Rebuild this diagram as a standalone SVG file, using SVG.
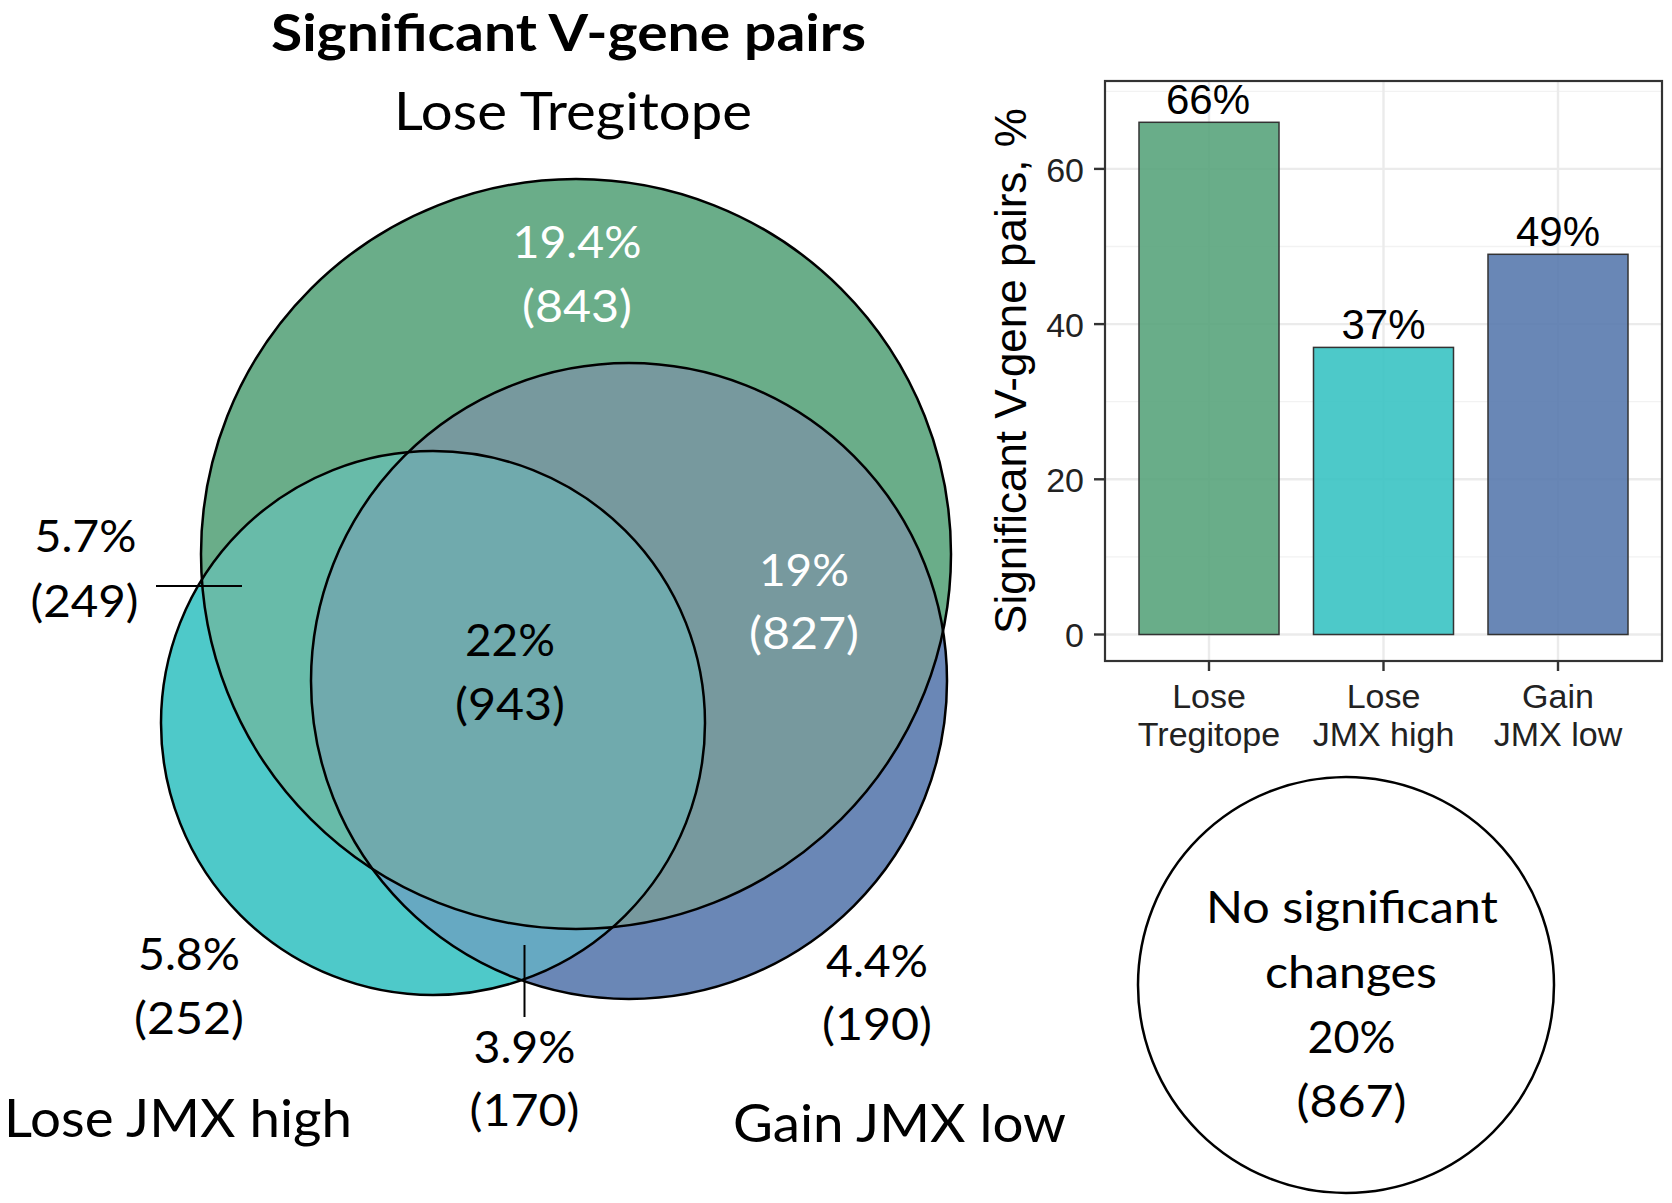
<svg xmlns="http://www.w3.org/2000/svg" width="1672" height="1203" viewBox="0 0 1672 1203">
<style>
.cal{font-family:Lato,"Open Sans","Noto Sans",sans-serif;}
.num{font-size:45px;text-anchor:middle;fill:#000;}
.wht{fill:#fff;}
.set{font-size:53px;fill:#000;}
.ttl{font-size:52px;font-weight:bold;fill:#000;text-anchor:middle;}
.outline{fill:none;stroke:#000;stroke-width:2.5;}
.ar{font-family:"Liberation Sans",Arial,sans-serif;}
.tick{font-size:34px;fill:#222;}
.barlab{font-size:42px;fill:#000;text-anchor:middle;}
.gmaj{stroke:#ebebeb;stroke-width:2.4;}
.gmin{stroke:#f2f2f2;stroke-width:1.3;}
.bar{stroke:#333;stroke-width:1.5;fill-opacity:0.9;}
.tk{stroke:#333;stroke-width:2.4;}
.lead{stroke:#000;stroke-width:2;}
</style>
<defs>
<clipPath id="cG"><circle cx="576" cy="554" r="375"/></clipPath>
<clipPath id="cT"><circle cx="433" cy="723" r="272"/></clipPath>
</defs>
<rect width="1672" height="1203" fill="#fff"/>

<text class="cal ttl" x="568.5" y="51" textLength="595" lengthAdjust="spacingAndGlyphs">Significant V-gene pairs</text>

<g id="venn">
<g id="set-lose-tregitope"><circle cx="576" cy="554" r="375" fill="#6aad89"/></g>
<g id="set-lose-jmx-high"><circle cx="433" cy="723" r="272" fill="#4ec9c9"/></g>
<g id="set-gain-jmx-low"><circle cx="629" cy="681" r="318" fill="#6a87b6"/></g>
<g clip-path="url(#cG)">
<circle cx="433" cy="723" r="272" fill="#68bba9"/>
<circle cx="629" cy="681" r="318" fill="#77999e"/>
</g>
<g clip-path="url(#cT)"><circle cx="629" cy="681" r="318" fill="#66a9c2"/></g>
<g clip-path="url(#cG)"><g clip-path="url(#cT)"><circle cx="629" cy="681" r="318" fill="#70aaad"/></g></g>
<circle class="outline" cx="576" cy="554" r="375"/>
<circle class="outline" cx="433" cy="723" r="272"/>
<circle class="outline" cx="629" cy="681" r="318"/>
</g>

<g id="connectors">
<line class="lead" x1="156" y1="586" x2="242" y2="586"/>
<line class="lead" x1="524.5" y1="945" x2="524.5" y2="1017"/>
</g>

<g id="venn-labels">
<text class="cal set" x="573" y="130" text-anchor="middle" textLength="358" lengthAdjust="spacingAndGlyphs">Lose Tregitope</text>
<text class="cal set" x="4" y="1137" textLength="348" lengthAdjust="spacingAndGlyphs">Lose JMX high</text>
<text class="cal set" x="733" y="1142" textLength="333" lengthAdjust="spacingAndGlyphs">Gain JMX low</text>

<text class="cal num wht" x="577" y="258" textLength="129" lengthAdjust="spacingAndGlyphs">19.4%</text>
<text class="cal num wht" x="577" y="322" textLength="110" lengthAdjust="spacingAndGlyphs">(843)</text>
<text class="cal num wht" x="804" y="586" textLength="90" lengthAdjust="spacingAndGlyphs">19%</text>
<text class="cal num wht" x="804" y="649" textLength="110" lengthAdjust="spacingAndGlyphs">(827)</text>
<text class="cal num" x="510" y="656" textLength="90" lengthAdjust="spacingAndGlyphs">22%</text>
<text class="cal num" x="510" y="720" textLength="110" lengthAdjust="spacingAndGlyphs">(943)</text>
<text class="cal num" x="85.5" y="552" textLength="102" lengthAdjust="spacingAndGlyphs">5.7%</text>
<text class="cal num" x="84.5" y="617" textLength="108" lengthAdjust="spacingAndGlyphs">(249)</text>
<text class="cal num" x="189" y="970" textLength="102" lengthAdjust="spacingAndGlyphs">5.8%</text>
<text class="cal num" x="189" y="1034" textLength="110" lengthAdjust="spacingAndGlyphs">(252)</text>
<text class="cal num" x="524.5" y="1063" textLength="102" lengthAdjust="spacingAndGlyphs">3.9%</text>
<text class="cal num" x="524.5" y="1126" textLength="110" lengthAdjust="spacingAndGlyphs">(170)</text>
<text class="cal num" x="877" y="977" textLength="102" lengthAdjust="spacingAndGlyphs">4.4%</text>
<text class="cal num" x="877" y="1040" textLength="110" lengthAdjust="spacingAndGlyphs">(190)</text>
</g>

<g id="no-significant">
<circle class="outline" cx="1346" cy="985" r="208" fill="#fff"/>
<text class="cal num" x="1352" y="923" textLength="292" lengthAdjust="spacingAndGlyphs">No significant</text>
<text class="cal num" x="1351" y="988" textLength="172" lengthAdjust="spacingAndGlyphs">changes</text>
<text class="cal num" x="1351.5" y="1053" textLength="88" lengthAdjust="spacingAndGlyphs">20%</text>
<text class="cal num" x="1351.5" y="1117" textLength="110" lengthAdjust="spacingAndGlyphs">(867)</text>
</g>

<g id="bar-chart">
<rect x="1105" y="81" width="557" height="580" fill="#fff"/>
<g id="grid">
<line class="gmin" x1="1105" y1="556.9" x2="1662" y2="556.9"/>
<line class="gmin" x1="1105" y1="401.7" x2="1662" y2="401.7"/>
<line class="gmin" x1="1105" y1="246.5" x2="1662" y2="246.5"/>
<line class="gmin" x1="1105" y1="91.3" x2="1662" y2="91.3"/>
<line class="gmaj" x1="1105" y1="634.5" x2="1662" y2="634.5"/>
<line class="gmaj" x1="1105" y1="479.3" x2="1662" y2="479.3"/>
<line class="gmaj" x1="1105" y1="324.1" x2="1662" y2="324.1"/>
<line class="gmaj" x1="1105" y1="168.9" x2="1662" y2="168.9"/>
<line class="gmaj" x1="1209" y1="81" x2="1209" y2="661"/>
<line class="gmaj" x1="1383.5" y1="81" x2="1383.5" y2="661"/>
<line class="gmaj" x1="1558" y1="81" x2="1558" y2="661"/>
</g>
<g id="bar-lose-tregitope">
<rect class="bar" x="1139" y="122.3" width="140" height="512.2" fill="#59a47c"/>
<text class="ar barlab" x="1208" y="114">66%</text>
</g>
<g id="bar-lose-jmx-high">
<rect class="bar" x="1313.5" y="347.4" width="140" height="287.1" fill="#3ac3c3"/>
<text class="ar barlab" x="1383.5" y="339">37%</text>
</g>
<g id="bar-gain-jmx-low">
<rect class="bar" x="1488" y="254.3" width="140" height="380.2" fill="#597aae"/>
<text class="ar barlab" x="1558" y="246">49%</text>
</g>
<rect x="1105" y="81" width="557" height="580" fill="none" stroke="#333" stroke-width="2.2"/>
<g id="axes">
<line class="tk" x1="1094" y1="634.5" x2="1105" y2="634.5"/>
<line class="tk" x1="1094" y1="479.3" x2="1105" y2="479.3"/>
<line class="tk" x1="1094" y1="324.1" x2="1105" y2="324.1"/>
<line class="tk" x1="1094" y1="168.9" x2="1105" y2="168.9"/>
<line class="tk" x1="1209" y1="661" x2="1209" y2="671"/>
<line class="tk" x1="1383.5" y1="661" x2="1383.5" y2="671"/>
<line class="tk" x1="1558" y1="661" x2="1558" y2="671"/>
<text class="ar tick" x="1084" y="647" text-anchor="end">0</text>
<text class="ar tick" x="1084" y="491.5" text-anchor="end">20</text>
<text class="ar tick" x="1084" y="336.5" text-anchor="end">40</text>
<text class="ar tick" x="1084" y="181.5" text-anchor="end">60</text>
<text class="ar tick" x="1209" y="708" text-anchor="middle">Lose</text>
<text class="ar tick" x="1209" y="746" text-anchor="middle">Tregitope</text>
<text class="ar tick" x="1383.5" y="708" text-anchor="middle">Lose</text>
<text class="ar tick" x="1383.5" y="746" text-anchor="middle">JMX high</text>
<text class="ar tick" x="1558" y="708" text-anchor="middle">Gain</text>
<text class="ar tick" x="1558" y="746" text-anchor="middle">JMX low</text>
<text class="ar" x="0" y="0" font-size="44" fill="#000" text-anchor="middle" transform="translate(1026 371) rotate(-90)">Significant V-gene pairs, %</text>
</g>
</g>
</svg>
